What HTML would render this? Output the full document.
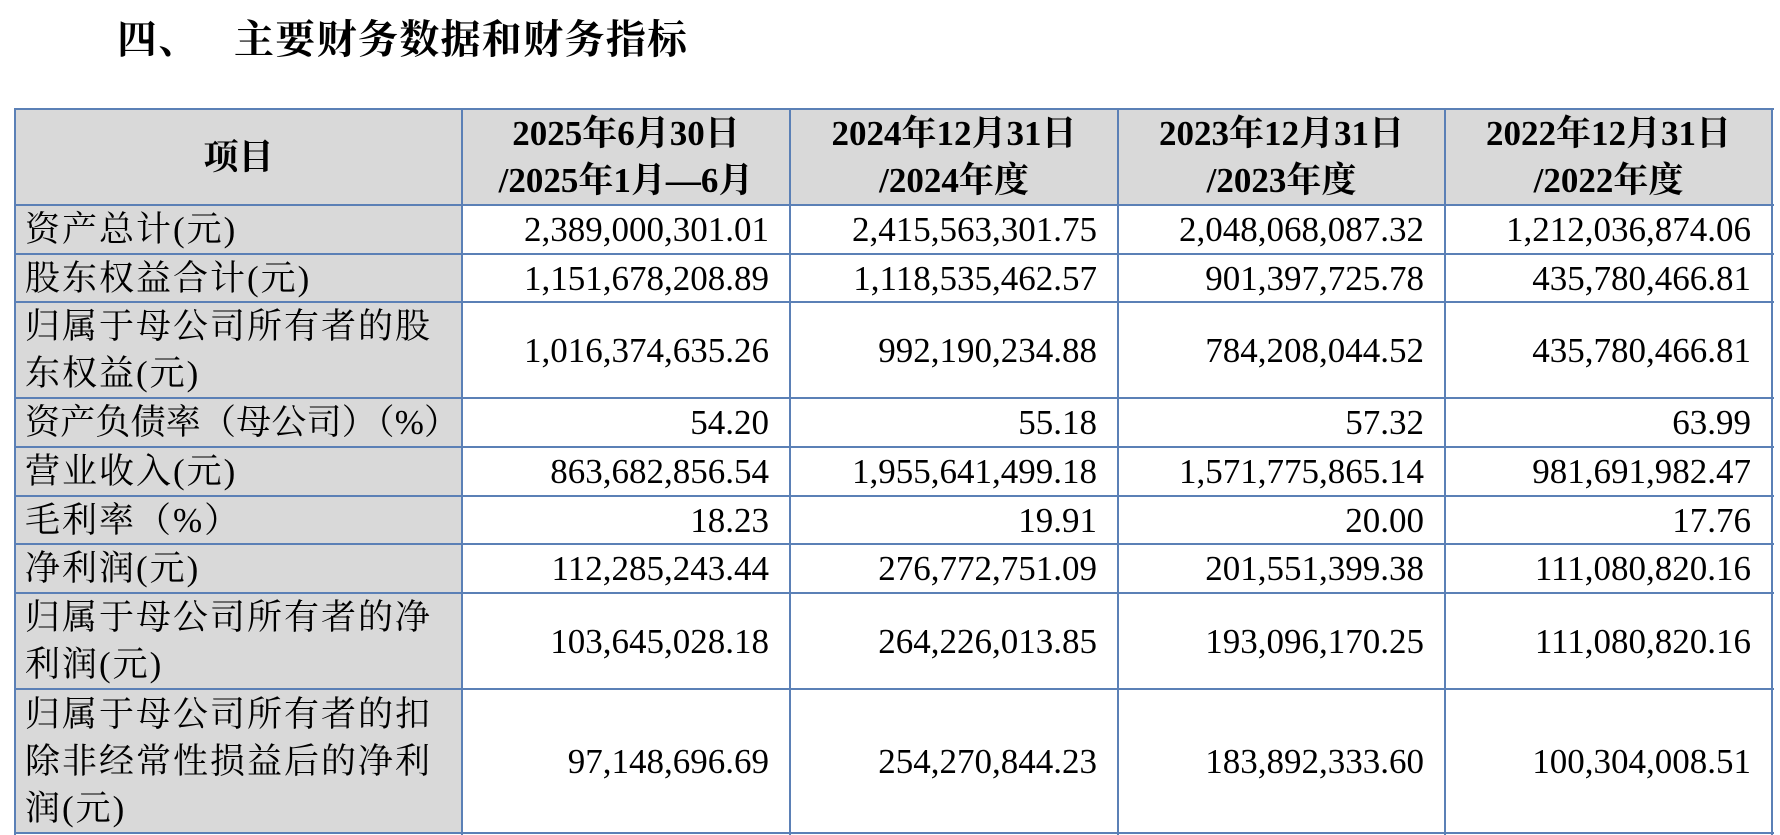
<!DOCTYPE html>
<html><head><meta charset="utf-8"><style>
body{margin:0;width:1780px;height:835px;background:#fff;position:relative;overflow:hidden;font-family:"Liberation Serif","Noto Serif CJK SC",serif;color:#000}
.t{position:absolute;font-size:40px;font-weight:700;top:8px;font-family:"Liberation Serif","Noto Serif CJK SC",serif;letter-spacing:1.3px}
.c{position:absolute;display:flex;align-items:center;box-sizing:border-box;font-size:35px;line-height:47px;white-space:nowrap}
.g{background:#d9d9d9}
.l{padding-left:10px;letter-spacing:2px}
.r{justify-content:flex-end;padding-right:21px;font-family:"Liberation Serif",serif}
.h{justify-content:center;text-align:center;font-weight:700}
.vl{position:absolute;width:2px;background:#5b80b6;top:108px;height:727px}
.hl{position:absolute;height:2px;background:#5b80b6;left:14px;width:1760px}
</style></head><body>
<div class="t" style="left:117px">四、</div>
<div class="t" style="left:234px">主要财务数据和财务指标</div>
<div id="g"></div>
<script>
const X=[15,462,790,1118,1445,1772];
const Y=[109,205,254,302,398,447,496,544,593,689,833];
const head=["项目","2025年6月30日<br>/2025年1月—6月","2024年12月31日<br>/2024年度","2023年12月31日<br>/2023年度","2022年12月31日<br>/2022年度"];
const rows=[
["资产总计(元)","2,389,000,301.01","2,415,563,301.75","2,048,068,087.32","1,212,036,874.06"],
["股东权益合计(元)","1,151,678,208.89","1,118,535,462.57","901,397,725.78","435,780,466.81"],
["归属于母公司所有者的股<br>东权益(元)","1,016,374,635.26","992,190,234.88","784,208,044.52","435,780,466.81"],
["资产负债率（母公司）（%）","54.20","55.18","57.32","63.99"],
["营业收入(元)","863,682,856.54","1,955,641,499.18","1,571,775,865.14","981,691,982.47"],
["毛利率（%）","18.23","19.91","20.00","17.76"],
["净利润(元)","112,285,243.44","276,772,751.09","201,551,399.38","111,080,820.16"],
["归属于母公司所有者的净<br>利润(元)","103,645,028.18","264,226,013.85","193,096,170.25","111,080,820.16"],
["归属于母公司所有者的扣<br>除非经常性损益后的净利<br>润(元)","97,148,696.69","254,270,844.23","183,892,333.60","100,304,008.51"]];
let h="";
function cell(x0,x1,y0,y1,cls,txt,st){h+=`<div class="c ${cls}" style="left:${x0}px;top:${y0}px;width:${x1-x0}px;height:${y1-y0}px;${st||""}"><div>${txt}</div></div>`;}
for(let j=0;j<5;j++)cell(X[j],X[j+1],Y[0],Y[1],"g h",head[j]);
rows.forEach((r,i)=>{for(let j=0;j<5;j++)cell(X[j],X[j+1],Y[i+1],Y[i+2],j==0?"g l":"r",r[j],(j==0&&i==3)?"letter-spacing:0.2px":"");});
X.forEach(x=>h+=`<div class="vl" style="left:${x-1}px"></div>`);
Y.forEach(y=>h+=`<div class="hl" style="top:${y-1}px"></div>`);
document.getElementById("g").innerHTML=h;
</script>
</body></html>
